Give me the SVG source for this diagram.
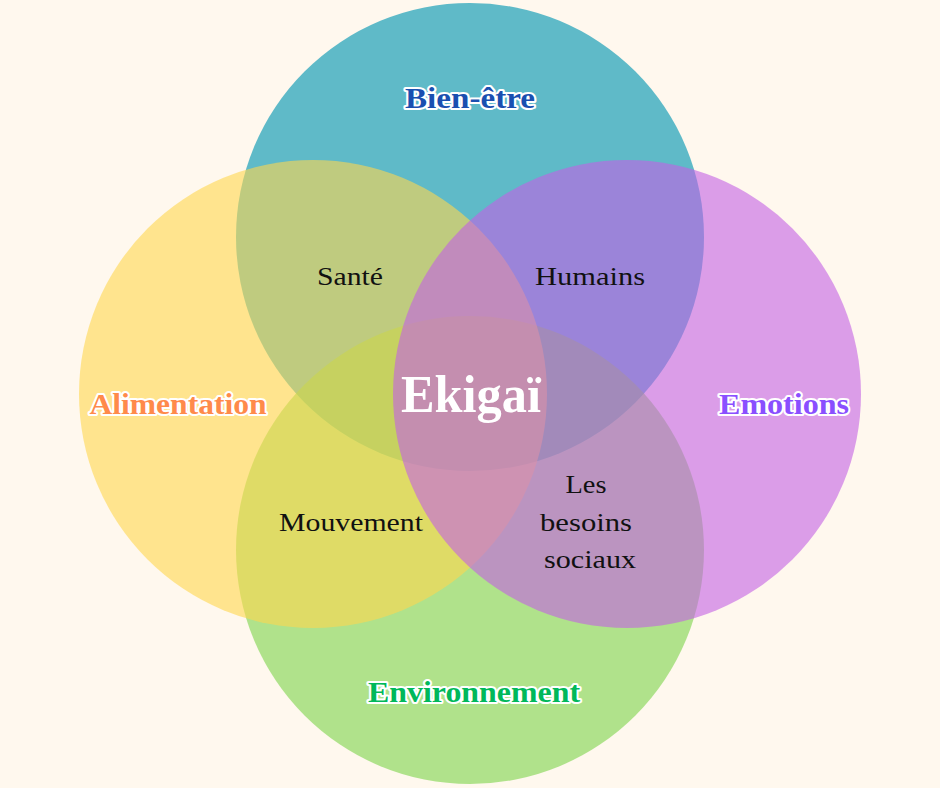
<svg xmlns="http://www.w3.org/2000/svg" width="940" height="788" viewBox="0 0 940 788">
<style>
.lbl{font-family:"Liberation Serif","DejaVu Serif",serif;font-weight:bold;font-size:30px;text-anchor:middle;stroke:#ffffff;stroke-width:4px;paint-order:stroke;stroke-linejoin:round}
.sub{font-family:"Liberation Serif","DejaVu Serif",serif;font-size:25px;text-anchor:middle;fill:#111111}
.ctr{font-family:"Liberation Serif","DejaVu Serif",serif;font-weight:bold;font-size:52px;text-anchor:middle;fill:#ffffff}
</style>
<rect width="940" height="788" fill="#FFF8EE"/>
<g id="circles">
<circle id="bien-etre" cx="470" cy="237" r="234" fill="#5FBAC8"/>
<circle id="environnement" cx="470" cy="550" r="234" fill="#7BD449" fill-opacity="0.6"/>
<circle id="alimentation" cx="313" cy="394" r="234" fill="#FFD74E" fill-opacity="0.6"/>
<circle id="emotions" cx="627" cy="394" r="234" fill="#C361E4" fill-opacity="0.6"/>
</g>
<g id="connectors"/>
<g id="labels">
<text class="lbl" x="470" y="108" fill="#1A4FB0" textLength="130" lengthAdjust="spacingAndGlyphs">Bien-être</text>
<text class="lbl" x="178" y="414" fill="#FF8A4A" textLength="177" lengthAdjust="spacingAndGlyphs">Alimentation</text>
<text class="lbl" x="784" y="414" fill="#8A4FFF" textLength="130" lengthAdjust="spacingAndGlyphs">Emotions</text>
<text class="lbl" x="474" y="702" fill="#00B85A" textLength="212" lengthAdjust="spacingAndGlyphs">Environnement</text>
<text class="ctr" x="471" y="412" textLength="140" lengthAdjust="spacingAndGlyphs">Ekigaï</text>
<text class="sub" x="350" y="285" textLength="66" lengthAdjust="spacingAndGlyphs">Santé</text>
<text class="sub" x="590" y="285" textLength="110" lengthAdjust="spacingAndGlyphs">Humains</text>
<text class="sub" x="351" y="531" textLength="144" lengthAdjust="spacingAndGlyphs">Mouvement</text>
<text class="sub" x="586" y="493" textLength="41" lengthAdjust="spacingAndGlyphs">Les</text>
<text class="sub" x="586" y="531" textLength="92" lengthAdjust="spacingAndGlyphs">besoins</text>
<text class="sub" x="590" y="568" textLength="92" lengthAdjust="spacingAndGlyphs">sociaux</text>
</g>
</svg>
